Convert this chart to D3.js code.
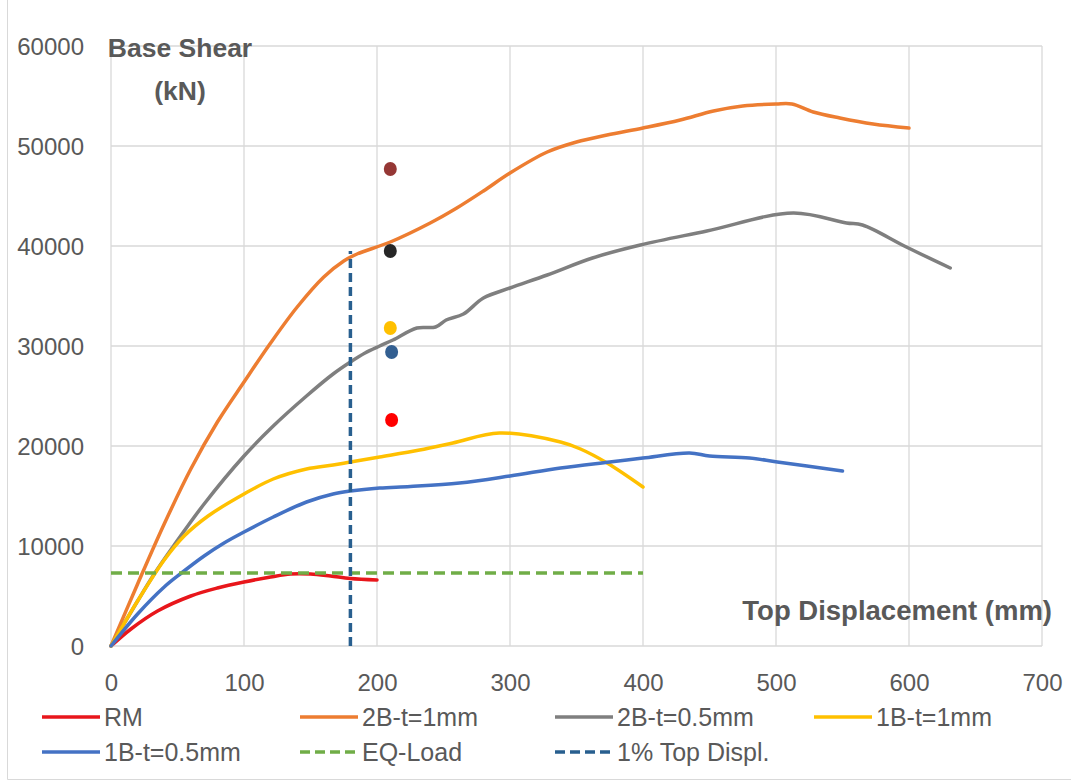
<!DOCTYPE html>
<head>
  <meta charset="UTF-8">
  <title>pushover</title>
  <style>
  body{ margin:0; background:#fff; }
  text{ font-family:"Liberation Sans", Arial, sans-serif; fill:#595959; }
  </style>
</head>
<body>
  <script src="https://cdn.jsdelivr.net/npm/d3@7"></script>
  <script type="text/javascript">
  // series: [top displacement mm, base shear kN]
  var rm = [[0,0],[15,1700],[35,3500],[60,5000],[80,5800],[100,6400],[120,6900],[135,7200],[150,7200],[165,7000],[180,6750],[200,6600]];
  var b2t1 = [[0,0],[20,6200],[40,12200],[60,17700],[80,22400],[100,26400],[120,30300],[140,33900],[160,36900],[175,38500],[185,39200],[210,40400],[240,42300],[260,43800],[280,45500],[300,47300],[328,49400],[350,50400],[373,51100],[400,51800],[428,52600],[453,53500],[475,54000],[500,54200],[512,54200],[528,53400],[548,52800],[573,52200],[600,51800]];
  var b2t05 = [[0,0],[20,4500],[33,7300],[47,10000],[70,14200],[100,19000],[122,22000],[147,25000],[167,27200],[180,28400],[191,29300],[202,30000],[212,30600],[230,31800],[244,31900],[252,32600],[265,33200],[280,34800],[300,35800],[328,37100],[362,38800],[398,40100],[448,41500],[513,43300],[553,42300],[565,42100],[598,39900],[631,37800]];
  var b1t1 = [[0,0],[20,4500],[40,8600],[55,11000],[73,13000],[100,15200],[122,16700],[147,17700],[167,18100],[180,18400],[202,18900],[232,19600],[257,20300],[292,21300],[338,20400],[353,19700],[373,18300],[400,15900]];
  var b1t05 = [[0,0],[20,3200],[40,5900],[53,7300],[70,9000],[85,10300],[100,11400],[122,12900],[147,14400],[167,15200],[180,15500],[202,15800],[225,15950],[262,16300],[300,17000],[338,17800],[375,18400],[400,18800],[435,19300],[450,19000],[480,18800],[501,18400],[550,17500]];
  var eqLoad = [[0,7300],[400,7300]];
  var topDispl = [[180,0],[180,39500]];
  var markers = [[210,47700],[210,39500],[210,31800],[211,29400],[211,22600]];
  var markerColors = ['#953735','#262626','#ffc000','#335f91','#ff0000'];
  var xTicks = [0,100,200,300,400,500,600,700];
  var yTicks = [0,10000,20000,30000,40000,50000,60000];

  var series = [
    {name:'RM', data:rm, color:'#e8161b', dash:null},
    {name:'2B-t=1mm', data:b2t1, color:'#ed7d31', dash:null},
    {name:'2B-t=0.5mm', data:b2t05, color:'#7f7f7f', dash:null},
    {name:'1B-t=1mm', data:b1t1, color:'#ffc000', dash:null},
    {name:'1B-t=0.5mm', data:b1t05, color:'#4472c4', dash:null},
    {name:'EQ-Load', data:eqLoad, color:'#70ad47', dash:'11,6'},
    {name:'1% Top Displ.', data:topDispl, color:'#285f8f', dash:'9,5'}
  ];

  var width = 1071, height = 781;
  var svg = d3.select('body').append('svg')
    .attr('width', width)
    .attr('height', height);

  // chart border
  svg.append('path')
    .attr('d', 'M7.5,0V779.5H1071')
    .attr('fill', 'none')
    .attr('stroke', '#d9d9d9');

  var x = d3.scaleLinear().domain([0,700]).range([111,1042]);
  var y = d3.scaleLinear().domain([0,60000]).range([646,46]);

  //网格
  svg.append('g').selectAll('line').data(xTicks).enter().append('line')
    .attr('x1', d => x(d)).attr('x2', d => x(d))
    .attr('y1', y(0)).attr('y2', y(60000))
    .attr('stroke', '#d9d9d9').attr('stroke-width', 1.3);
  svg.append('g').selectAll('line').data(yTicks).enter().append('line')
    .attr('x1', x(0)).attr('x2', x(700))
    .attr('y1', d => y(d)).attr('y2', d => y(d))
    .attr('stroke', '#d9d9d9').attr('stroke-width', 1.3);

  //坐标轴
  var xAxis = svg.append('g').attr('transform', 'translate(0,' + y(0) + ')')
    .call(d3.axisBottom(x).tickValues(xTicks).tickSize(0).tickPadding(28).tickFormat(d3.format('d')));
  var yAxis = svg.append('g').attr('transform', 'translate(' + x(0) + ',0)')
    .call(d3.axisLeft(y).tickValues(yTicks).tickSize(0).tickPadding(27).tickFormat(d3.format('d')));
  [xAxis, yAxis].forEach(function(a){
    a.select('.domain').remove();
    a.selectAll('text').attr('font-size', 24).attr('font-family', null).attr('fill', '#595959');
  });
  yAxis.selectAll('text').attr('dy', '0.35em');

  //曲线
  var line = d3.line().x(d => x(d[0])).y(d => y(d[1])).curve(d3.curveCatmullRom.alpha(0.5));
  svg.append('g').selectAll('path').data(series).enter().append('path')
    .attr('d', d => line(d.data))
    .attr('fill', 'none')
    .attr('stroke', d => d.color)
    .attr('stroke-width', 3.5)
    .attr('stroke-dasharray', d => d.dash)
    .attr('stroke-linecap', d => d.dash ? 'butt' : 'round');

  svg.append('g').selectAll('ellipse').data(markers).enter().append('ellipse')
    .attr('cx', d => x(d[0])).attr('cy', d => y(d[1]))
    .attr('rx', 6.5).attr('ry', 7)
    .attr('fill', (d, i) => markerColors[i]);

  //标题
  svg.append('text').attr('x', 180).attr('y', 57).attr('text-anchor', 'middle')
    .attr('font-size', 26.5).attr('font-weight', 'bold').text('Base Shear');
  svg.append('text').attr('x', 180).attr('y', 100).attr('text-anchor', 'middle')
    .attr('font-size', 26.5).attr('font-weight', 'bold').text('(kN)');
  svg.append('text').attr('x', 1052).attr('y', 620).attr('text-anchor', 'end')
    .attr('font-size', 27.5).attr('font-weight', 'bold').text('Top Displacement (mm)');

  //图例
  var colX = [42, 300, 555, 814];
  var rowY = [717, 752];
  var lg = svg.append('g').selectAll('g').data(series).enter().append('g')
    .attr('transform', (d, i) => 'translate(' + colX[i % 4] + ',' + rowY[Math.floor(i / 4)] + ')');
  lg.append('line')
    .attr('x1', 0).attr('x2', 58).attr('y1', 0).attr('y2', 0)
    .attr('stroke', d => d.color).attr('stroke-width', 3.5)
    .attr('stroke-dasharray', d => d.dash ? '10,5' : null);
  lg.append('text').attr('x', 62).attr('y', 0).attr('dy', '0.35em')
    .attr('font-size', 25).text(d => d.name);
  </script>
</body>
</html>
